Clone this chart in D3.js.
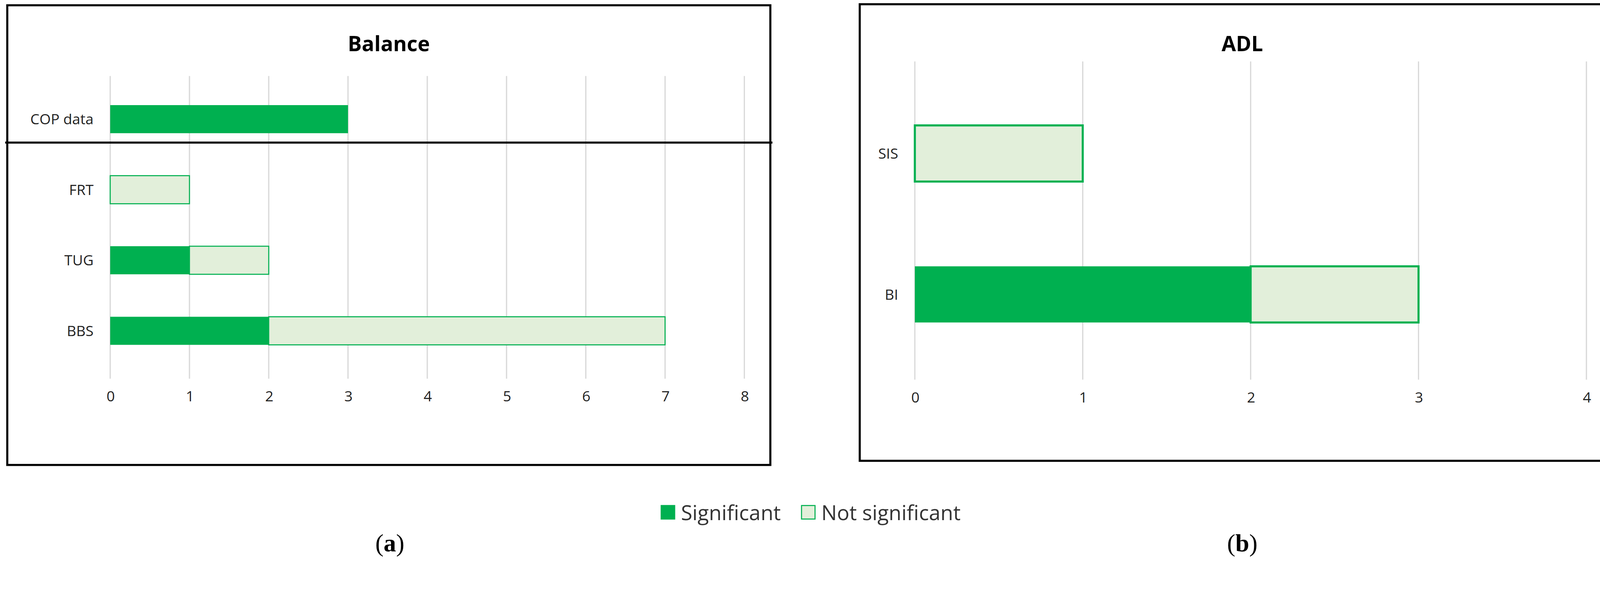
<!DOCTYPE html>
<html><head><meta charset="utf-8">
<script src="https://cdn.jsdelivr.net/npm/d3@7"></script>
<style>body{margin:0;background:#fff}</style></head>
<body><svg id="c" width="4173" height="1520" viewBox="0 0 1568 571"></svg>
<script>
const balanceCats = ["COP data","FRT","TUG","BBS"];
const balanceSig = [3,0,1,2];
const balanceNot = [0,1,1,5];
const balanceTicks = [0,1,2,3,4,5,6,7,8];
const adlCats = ["SIS","BI"];
const adlSig = [0,2];
const adlNot = [1,1];
const adlTicks = [0,1,2,3,4];
const seriesNames = ["Significant","Not significant"];
const DARK="#00B050", LIGHT="#E2EFDA";
const font="'Open Sans', sans-serif";
const svg=d3.select("#c");

function panel(o){
  const g=svg.append("g");
  g.append("rect").attr("x",o.box[0]).attr("y",o.box[1]).attr("width",o.box[2]-o.box[0]).attr("height",o.box[3]-o.box[1]).attr("fill","none").attr("stroke","#000").attr("stroke-width",2);
  g.append("text").attr("x",(o.box[0]+o.box[2])/2).attr("y",49).attr("text-anchor","middle").attr("font-family",font).attr("font-weight","bold").attr("font-size",20).text(o.title);
  const x=d3.scaleLinear().domain([0,o.ticks[o.ticks.length-1]]).range([o.x0,o.x1]);
  const y=d3.scalePoint().domain(o.cats).range(o.yr);
  o.ticks.forEach(t=>g.append("line").attr("x1",x(t)).attr("x2",x(t)).attr("y1",o.gy[0]).attr("y2",o.gy[1]).attr("stroke","#d9d9d9").attr("stroke-width",1.2));
  const ax=g.append("g").attr("transform",`translate(0,${o.gy[1]})`).call(d3.axisBottom(x).tickValues(o.ticks).tickSize(0).tickPadding(12).tickFormat(d3.format("d")));
  ax.select(".domain").remove();
  ax.selectAll("text").attr("font-family",font).attr("font-size",14).attr("fill","#222");
  o.cats.forEach((c,i)=>{
    const yc=y(c), h=o.bh;
    if(o.sig[i]>0) g.append("rect").attr("x",x(0)).attr("y",yc-h/2).attr("width",x(o.sig[i])-x(0)).attr("height",h).attr("fill",DARK);
    if(o.not[i]>0) g.append("rect").attr("x",x(o.sig[i])).attr("y",yc-h/2).attr("width",x(o.sig[i]+o.not[i])-x(o.sig[i])).attr("height",h).attr("fill",LIGHT).attr("stroke",DARK).attr("stroke-width",o.sw);
    g.append("text").attr("x",x(0)-16).attr("y",yc+5).attr("text-anchor","end").attr("font-family",font).attr("font-size",14).attr("fill","#222").text(c);
  });
  return g;
}
const gA=panel({box:[7,5,741,447],title:"Balance",cats:balanceCats,sig:balanceSig,not:balanceNot,ticks:balanceTicks,x0:106,x1:716,yr:[114.5,318],gy:[73,364],bh:27,sw:1});
gA.append("line").attr("x1",5).attr("x2",743).attr("y1",137).attr("y2",137).attr("stroke","#000").attr("stroke-width",2);
panel({box:[827,4,1563,443],title:"ADL",cats:adlCats,sig:adlSig,not:adlNot,ticks:adlTicks,x0:880,x1:1526,yr:[147.5,283],gy:[59,365],bh:54,sw:2});

// legend
const lg=svg.append("g");
const lx=[636,771];
seriesNames.forEach((n,i)=>{
  lg.append("rect").attr("x",lx[i]).attr("y",486).attr("width",13).attr("height",13).attr("fill",i?LIGHT:DARK).attr("stroke",DARK).attr("stroke-width",1);
  lg.append("text").attr("x",lx[i]+19).attr("y",500).attr("font-family",font).attr("font-size",20).attr("fill","#333").text(n);
});
[["a",375],["b",1195]].forEach(([l,cx])=>{
  const t=svg.append("text").attr("x",cx).attr("y",530).attr("text-anchor","middle").attr("font-family","'Liberation Serif', serif").attr("font-size",24);
  t.append("tspan").text("(");t.append("tspan").attr("font-weight","bold").text(l);t.append("tspan").text(")");
});
</script></body></html>
